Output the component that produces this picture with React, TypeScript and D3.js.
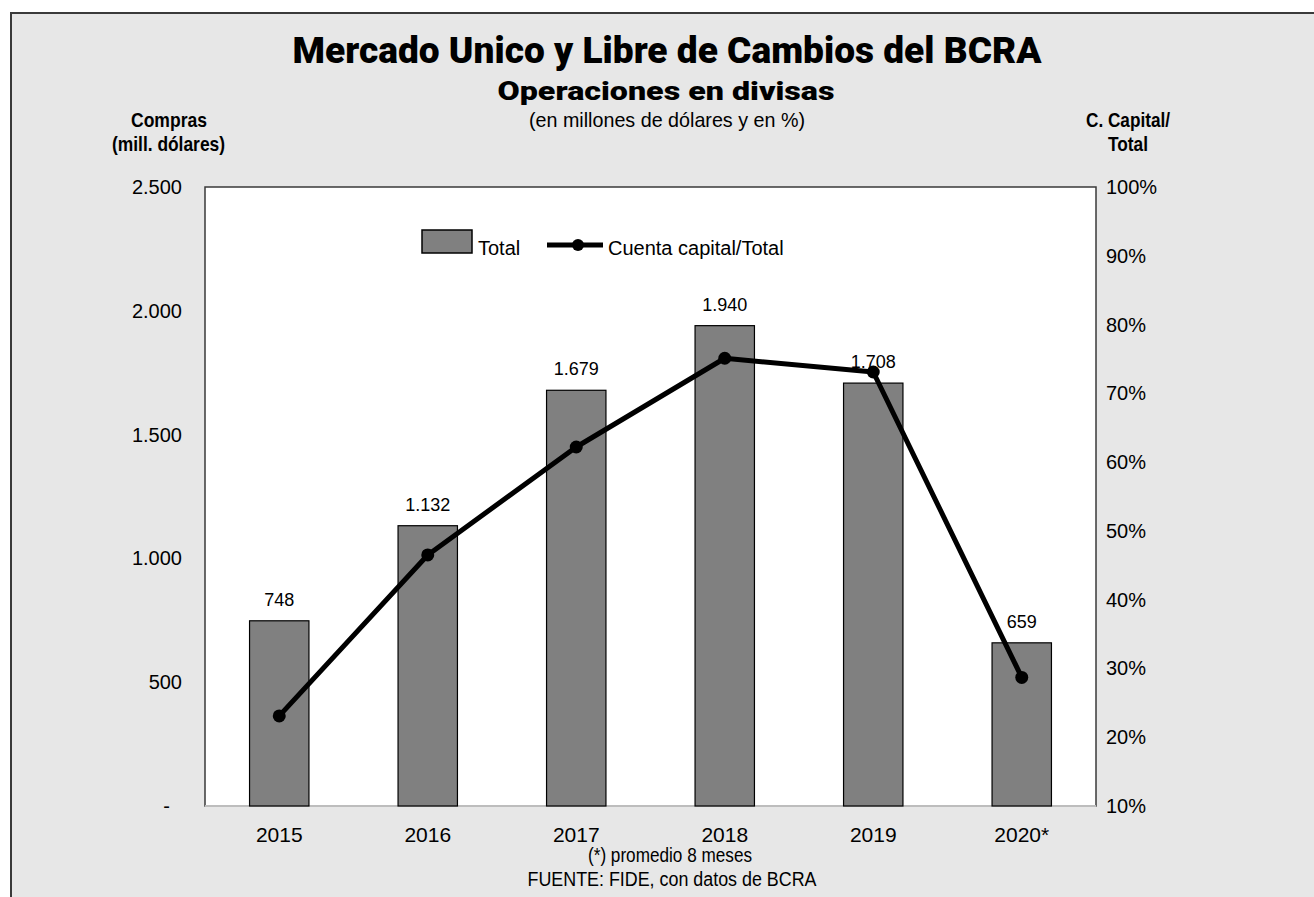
import React from 'react';
import * as d3 from 'd3';

// values
const years = ['2015', '2016', '2017', '2018', '2019', '2020*'];
const totals = [748, 1132, 1679, 1940, 1708, 659];
const capitalShare = [0.231, 0.465, 0.622, 0.751, 0.731, 0.287];
const leftTicks = [0, 500, 1000, 1500, 2000, 2500];
const rightTicks = [0.1, 0.2, 0.3, 0.4, 0.5, 0.6, 0.7, 0.8, 0.9, 1.0];

const W = 1314;
const H = 897;
const plot = { left: 205, right: 1096, top: 187, bottom: 806 };

const es = d3.formatLocale({ decimal: ',', thousands: '.', grouping: [3], currency: ['$', ''] });
const fmtNum = es.format(',d');
const fmtPct = (v: number) => `${Math.round(v * 100)}%`;

const sans = '"Liberation Sans", Arial, sans-serif';
const titleFont = 'Roboto, "DejaVu Sans", sans-serif';

// narrow-looking text: regular sans squeezed to the width seen in the reference
const Narrow = ({ x, y, w, size = 21, bold = false, children }: any) => (
  <text x={x} y={y} textAnchor="middle" fontFamily={sans} fontSize={size} fontWeight={bold ? 700 : 400}
    textLength={w} lengthAdjust="spacingAndGlyphs">{children}</text>
);

const App = () => {
  const x = d3.scaleBand().domain(years).range([plot.left, plot.right]).paddingInner(0.6).paddingOuter(0.3);
  const yL = d3.scaleLinear().domain([0, 2500]).range([plot.bottom, plot.top]);
  const yR = d3.scaleLinear().domain([0.1, 1]).range([plot.bottom, plot.top]);

  const cx = (d: string) => (x(d) as number) + x.bandwidth() / 2;
  const points = years.map((d, i) => [cx(d), yR(capitalShare[i])] as [number, number]);
  const line = d3.line();

  return (
    <svg width={W} height={H} style={{ position: 'absolute', left: 0, top: 0, display: 'block', background: '#fff' }}>
      <rect x={11} y={13} width={W + 20} height={H + 20} fill="#e7e7e7" stroke="#3a3a3a" strokeWidth={2} />

      <text x={667} y={63} textAnchor="middle" fontFamily={titleFont} fontWeight={900} fontSize={36}
        textLength={749} lengthAdjust="spacingAndGlyphs">Mercado Unico y Libre de Cambios del BCRA</text>
      <text x={666} y={100} textAnchor="middle" fontFamily={titleFont} fontWeight={900} fontSize={26}
        textLength={337} lengthAdjust="spacingAndGlyphs">Operaciones en divisas</text>
      <Narrow x={667} y={127} w={276}>(en millones de dólares y en %)</Narrow>

      <Narrow x={169} y={127} w={76} bold>Compras</Narrow>
      <Narrow x={168.5} y={151} w={113} bold>(mill. dólares)</Narrow>
      <Narrow x={1128} y={127} w={84} bold>C. Capital/</Narrow>
      <Narrow x={1128} y={151} w={40} bold>Total</Narrow>

      <rect x={plot.left} y={plot.top} width={plot.right - plot.left} height={plot.bottom - plot.top}
        fill="#fff" stroke="#3a3a3a" strokeWidth={1.5} />
      <line x1={plot.left} x2={plot.right} y1={plot.bottom} y2={plot.bottom} stroke="#bdbdbd" strokeWidth={2} />

      {/* left axis */}
      <g fontFamily={sans} fontSize={20} textAnchor="end">
        {leftTicks.map(t => (
          <text key={t} x={t === 0 ? 170 : 182} y={yL(t)} dy="0.35em">{t === 0 ? '-' : fmtNum(t)}</text>
        ))}
      </g>

      {/* right axis */}
      <g fontFamily={sans} fontSize={20} textAnchor="start">
        {rightTicks.map(t => (
          <text key={t} x={1106} y={yR(t)} dy="0.35em">{fmtPct(t)}</text>
        ))}
      </g>

      {/* x axis */}
      <g fontFamily={sans} fontSize={21} textAnchor="middle">
        {years.map(d => (
          <text key={d} x={cx(d)} y={842}>{d}</text>
        ))}
      </g>

      {/* bars */}
      {years.map((d, i) => (
        <rect key={d} x={x(d)} y={yL(totals[i])} width={x.bandwidth()} height={plot.bottom - yL(totals[i])}
          fill="#808080" stroke="#000" strokeWidth={1.2} />
      ))}
      <g fontFamily={sans} fontSize={18} textAnchor="middle">
        {years.map((d, i) => (
          <text key={d} x={cx(d)} y={yL(totals[i]) - 15}>{fmtNum(totals[i])}</text>
        ))}
      </g>

      {/* line */}
      <path d={line(points) as string} fill="none" stroke="#000" strokeWidth={5} strokeLinejoin="round" />
      {points.map((p, i) => (
        <circle key={i} cx={p[0]} cy={p[1]} r={6.5} fill="#000" />
      ))}

      {/* legend */}
      <rect x={422} y={230} width={50} height={23} fill="#808080" stroke="#000" strokeWidth={1.5} />
      <text x={478} y={255} fontFamily={sans} fontSize={20}>Total</text>
      <line x1={547} x2={603} y1={245} y2={245} stroke="#000" strokeWidth={5} />
      <circle cx={578} cy={245} r={6} fill="#000" />
      <text x={608} y={255} fontFamily={sans} fontSize={20}>Cuenta capital/Total</text>

      {/* notes */}
      <Narrow x={670} y={862} w={164} size={20}>(*) promedio 8 meses</Narrow>
      <Narrow x={672} y={886} w={289} size={20}>FUENTE: FIDE, con datos de BCRA</Narrow>
    </svg>
  );
};

export default App;
